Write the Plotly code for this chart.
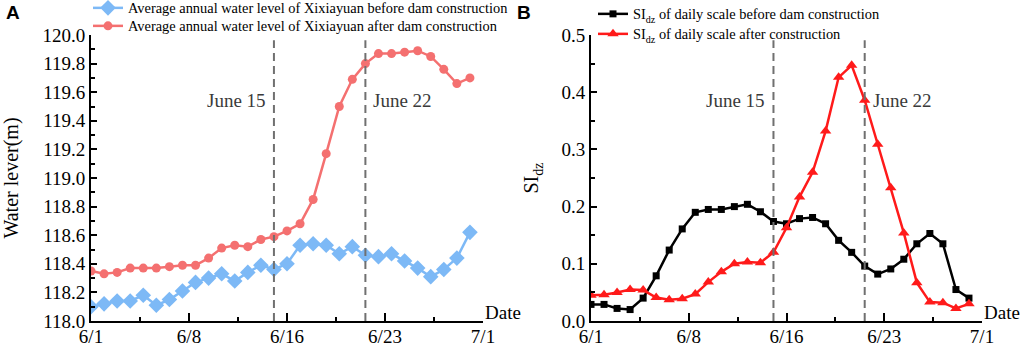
import plotly.graph_objects as go

# ---------------- data ----------------
days = list(range(1, 31))  # June 1 .. June 30
x_tickvals = [1, 8.5, 16, 23.5, 31]
x_ticktext = ["6/1", "6/8", "6/16", "6/23", "7/1"]
marker_days = [15, 22]
marker_labels = ["June 15", "June 22"]

level_before = [118.10, 118.12, 118.14, 118.14, 118.18, 118.11, 118.15, 118.21, 118.27, 118.30,
                118.33, 118.28, 118.34, 118.39, 118.36, 118.40, 118.53, 118.54, 118.53, 118.47,
                118.52, 118.46, 118.45, 118.47, 118.42, 118.37, 118.31, 118.36, 118.44, 118.62]
level_after = [118.35, 118.33, 118.34, 118.37, 118.37, 118.37, 118.38, 118.39, 118.39, 118.44,
               118.51, 118.53, 118.52, 118.57, 118.59, 118.63, 118.68, 118.85, 119.17, 119.50,
               119.69, 119.80, 119.87, 119.87, 119.88, 119.89, 119.85, 119.76, 119.66, 119.70]
si_before = [0.029, 0.029, 0.022, 0.020, 0.040, 0.079, 0.124, 0.161, 0.190, 0.195,
             0.195, 0.200, 0.204, 0.191, 0.174, 0.170, 0.179, 0.181, 0.170, 0.141,
             0.120, 0.096, 0.082, 0.091, 0.108, 0.135, 0.153, 0.135, 0.055, 0.040]
si_after = [0.045, 0.046, 0.050, 0.055, 0.054, 0.041, 0.037, 0.039, 0.047, 0.068,
            0.086, 0.100, 0.103, 0.102, 0.120, 0.163, 0.217, 0.260, 0.332, 0.426,
            0.447, 0.386, 0.309, 0.233, 0.154, 0.067, 0.033, 0.032, 0.022, 0.030]

SERIF = "Liberation Serif"
SANS = "Liberation Sans"

W, H = 1024, 347


def px_x(X):
    return X / W


def px_y(Y):
    return 1 - Y / H


fig = go.Figure()

# ---------------- traces ----------------
fig.add_trace(go.Scatter(x=days, y=level_before, mode="lines+markers",
                         name="Average annual water level of Xixiayuan before dam construction",
                         line=dict(color="#7db9f6", width=2.5),
                         marker=dict(symbol="diamond", size=12, color="#7db9f6"),
                         xaxis="x", yaxis="y", legend="legend"))
fig.add_trace(go.Scatter(x=days, y=level_after, mode="lines+markers",
                         name="Average annual water level of Xixiayuan after dam construction",
                         line=dict(color="#f47070", width=2.5),
                         marker=dict(symbol="circle", size=9, color="#f47070"),
                         xaxis="x", yaxis="y", legend="legend2"))
fig.add_trace(go.Scatter(x=days, y=si_before, mode="lines+markers",
                         name="SI<sub>dz</sub> of daily scale before dam construction",
                         line=dict(color="black", width=2.5),
                         marker=dict(symbol="square", size=7, color="black"),
                         xaxis="x2", yaxis="y2", legend="legend3"))
fig.add_trace(go.Scatter(x=days, y=si_after, mode="lines+markers",
                         name="SI<sub>dz</sub> of daily scale after construction",
                         line=dict(color="#ff1a1a", width=2.5),
                         marker=dict(symbol="triangle-up", size=10, color="#ff1a1a"),
                         xaxis="x2", yaxis="y2", legend="legend4"))

# ---------------- axes ----------------
tickfont = dict(family=SERIF, size=19, color="black")
xcommon = dict(range=[1, 31], tickvals=x_tickvals, ticktext=x_ticktext,
               showline=True, linecolor="black", linewidth=2, mirror=False,
               ticks="inside", ticklen=8, tickwidth=2, tickcolor="black",
               minor=dict(tickvals=[4.75, 12.25, 19.75, 27.25], ticks="inside", ticklen=4,
                          tickwidth=2, tickcolor="black"),
               showgrid=False, zeroline=False, tickfont=tickfont, automargin=False,
               ticklabelstandoff=-3)
ycommon = dict(showline=True, linecolor="black", linewidth=2,
               ticks="inside", ticklen=6, tickwidth=2, tickcolor="black",
               showgrid=False, zeroline=False, tickfont=tickfont, automargin=False)

ydom = [px_y(321), px_y(35)]
fig.update_layout(
    xaxis=dict(domain=[px_x(91), px_x(483)], anchor="y", **xcommon),
    yaxis=dict(domain=ydom, anchor="x", range=[118.0, 120.0], dtick=0.2, tickformat=".1f",
               minor=dict(dtick=0.1, ticks="inside", ticklen=4, tickwidth=2, tickcolor="black"),
               title=dict(text="Water lever(m)", font=dict(family=SERIF, size=20, color="black"),
                          standoff=33),
               **ycommon),
    xaxis2=dict(domain=[px_x(591), px_x(982)], anchor="y2", **xcommon),
    yaxis2=dict(domain=ydom, anchor="x2", range=[0, 0.5], dtick=0.1, tickformat=".1f",
                minor=dict(dtick=0.05, ticks="inside", ticklen=4, tickwidth=2, tickcolor="black"),
                title=dict(text="SI<sub>dz</sub>", font=dict(family=SERIF, size=20, color="black"),
                           standoff=17),
                **ycommon),
)

# ---------------- dashed reference lines + labels ----------------
shapes = []
annotations = []
for xa, ya in (("x", "y"), ("x2", "y2")):
    for d, lab in zip(marker_days, marker_labels):
        shapes.append(dict(type="line", xref=xa, yref=f"{ya} domain", x0=d, x1=d, y0=0, y1=0.982,
                           line=dict(color="#707070", width=2, dash="8px,5px")))
        annotations.append(dict(xref=xa, yref=f"{ya} domain", x=d, y=0.77,
                                text=lab, showarrow=False, yanchor="middle",
                                xanchor="right" if d == marker_days[0] else "left",
                                xshift=-6 if d == marker_days[0] else 6,
                                font=dict(family=SERIF, size=19, color="#3a3a3a")))
    annotations.append(dict(xref=f"{xa} domain", yref=f"{ya} domain", x=1, y=0,
                            text="Date", showarrow=False, xanchor="left", yanchor="bottom",
                            xshift=0, yshift=-4,
                            font=dict(family=SERIF, size=19, color="black")))

annotations.append(dict(xref="paper", yref="paper", x=px_x(4), y=px_y(13), text="<b>A</b>",
                        showarrow=False, xanchor="left", yanchor="middle",
                        font=dict(family=SANS, size=19, color="black")))
annotations.append(dict(xref="paper", yref="paper", x=px_x(515), y=px_y(13), text="<b>B</b>",
                        showarrow=False, xanchor="left", yanchor="middle",
                        font=dict(family=SANS, size=19, color="black")))

legfont = dict(family=SERIF, size=14.4, color="black")


def leg(xs, ys):
    return dict(x=px_x(xs), y=px_y(ys), xanchor="left", yanchor="middle", font=legfont,
                bgcolor="rgba(0,0,0,0)", borderwidth=0, tracegroupgap=0, itemwidth=30)


fig.update_layout(
    shapes=shapes,
    annotations=annotations,
    legend=leg(88, 8),
    legend2=leg(88, 26),
    legend3=leg(593, 14),
    legend4=leg(593, 34),
    width=W, height=H,
    margin=dict(l=0, r=0, t=0, b=0, autoexpand=False),
    plot_bgcolor="white", paper_bgcolor="white",
    showlegend=True,
)

fig.write_html("out.html", config={"displayModeBar": False},
               post_script="document.body.style.margin='0';document.body.style.overflow='hidden';")
